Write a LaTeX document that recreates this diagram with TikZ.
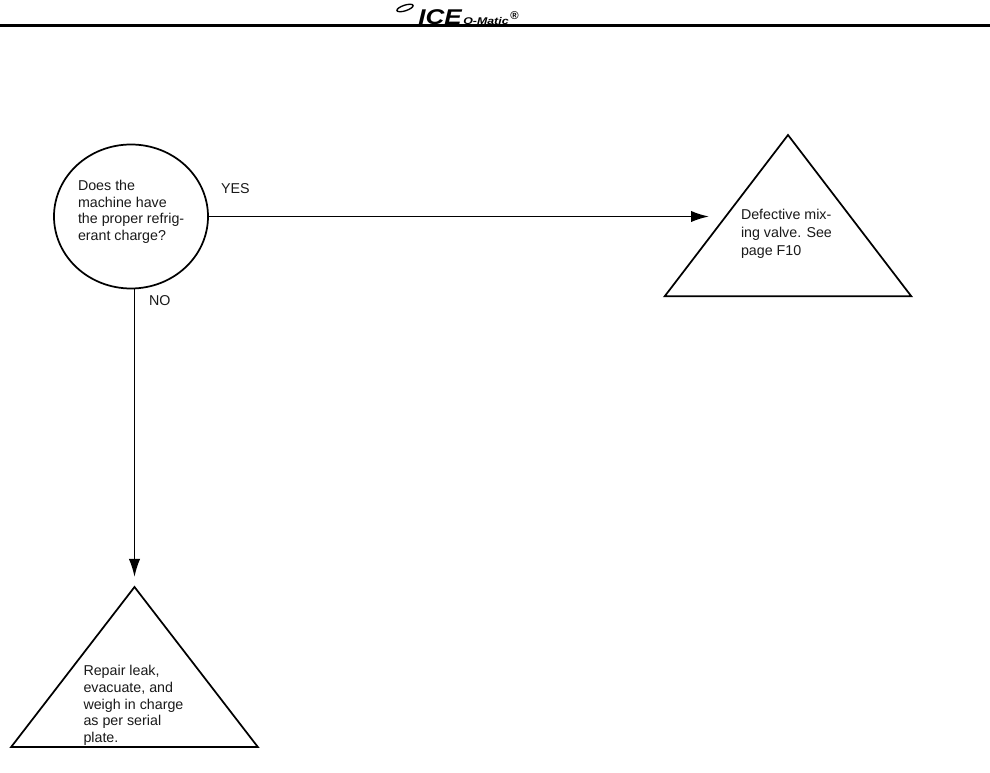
\documentclass[tikz,border=0pt]{standalone}
\usepackage{fontspec}
\setmainfont{Liberation Sans}
\usetikzlibrary{shapes.geometric,arrows.meta}
\tikzset{
  shape line/.style={draw=black,line width=1.3pt,outer sep=0pt,inner sep=0pt},
  tri/.style={shape line,isosceles triangle,isosceles triangle stretches=true,shape border rotate=90,minimum width=185pt,anchor=apex},
  flow/.style={draw=black,line width=1.3pt,-{Latex[length=13.5pt,width=8.5pt]}},
  body/.style={inner sep=0pt,outer sep=0pt,align=left,anchor=north west,font=\fontsize{10.7pt}{12.35pt}\selectfont,text=black!90},
  lab/.style={inner sep=0pt,outer sep=0pt,anchor=west,font=\fontsize{10.7pt}{12.2pt}\selectfont,text=black!90}
}
\begin{document}
\begin{tikzpicture}[x=0.75pt,y=-0.75pt]
\useasboundingbox (0,0) rectangle (990,773);
% header
\coordinate (ruleL) at (0,25.5);
\coordinate (ruleR) at (990,25.5);
\draw[line width=1.6pt] (ruleL) -- (ruleR);
\node[inner sep=0pt,anchor=base west,font=\bfseries\itshape\fontsize{16pt}{16pt}\selectfont,xscale=1.22] (ice) at (418,24.5) {ICE};
\node[inner sep=0pt,anchor=base west,font=\bfseries\itshape\fontsize{7.3pt}{7pt}\selectfont,xscale=1.27] (omatic) at (463,24.5) {O-Matic};
\node[inner sep=0pt,anchor=base west,font=\bfseries\fontsize{8.5pt}{8pt}\selectfont] (reg) at (510,19.5) {®};
\draw[line width=1pt,rotate around={18:(405,8)}] (405,8) ellipse (8.5 and 2.8);
% shapes
\node[shape line,ellipse,minimum width=115.5pt,minimum height=108pt] (q) at (131,216.5) {};
\node[tri,minimum height=121pt] (t1) at (788,135) {};
\node[tri,minimum height=120pt] (t2) at (134.5,587) {};
% connectors
\coordinate (yesend) at (709,216.5);
\draw[flow] (q.east) -- (yesend);
\draw[flow,shorten >=7.5pt] (q.south -| t2.apex) -- (t2.apex);
% labels
\node[lab] (yes) at (221,188.5) {YES};
\node[lab] (no) at (149,301) {NO};
\node[body] (qt) at (78,180.5) {Does the\\machine have\\the proper refrig-\\erant charge?};
\node[body,font=\fontsize{10.7pt}{13.4pt}\selectfont] (t1t) at (741,209.5) {Defective mix-\\ing valve. See\\page F10};
\node[body,font=\fontsize{10.7pt}{12.5pt}\selectfont] (t2t) at (83.5,665.5) {Repair leak,\\evacuate, and\\weigh in charge\\as per serial\\plate.};
\end{tikzpicture}
\end{document}
